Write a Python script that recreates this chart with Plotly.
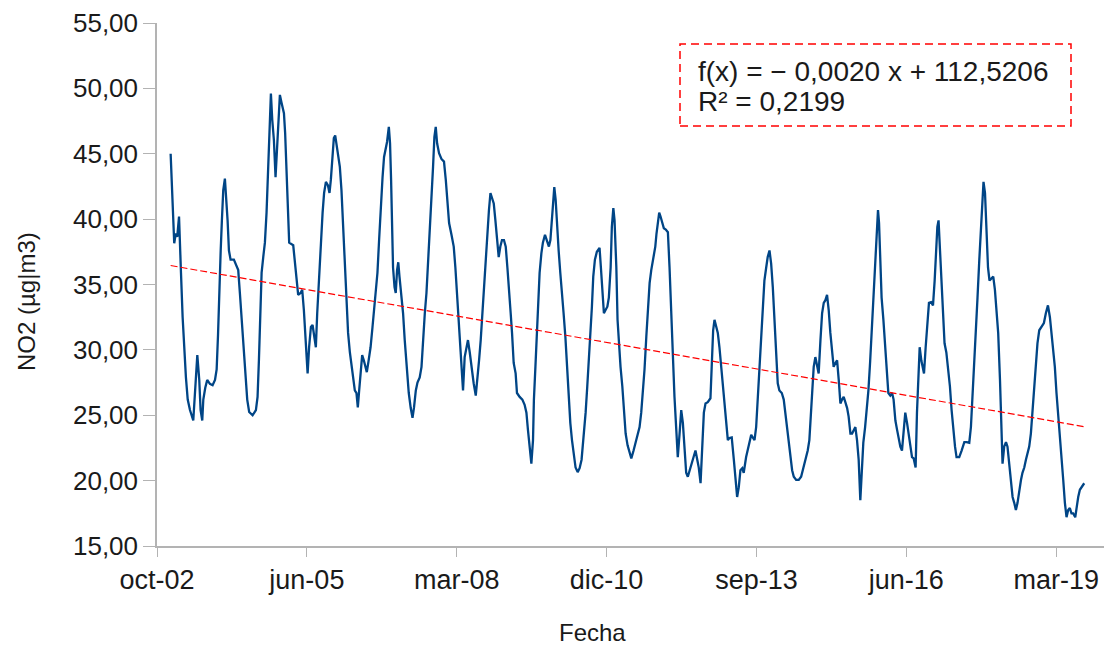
import pandas as pd
import plotly.graph_objects as go

# Fechas como número de serie de hoja de cálculo (días desde 1899-12-30)
fecha_serial = [
    37621, 37628, 37639, 37645, 37655, 37665, 37677, 37683, 37690, 37701,
    37712, 37723, 37735, 37750, 37772, 37781, 37790, 37799, 37812, 37821,
    37832, 37839, 37852, 37865, 37883, 37901, 37917, 37928, 37937, 37945,
    37955, 37963, 37972, 37983, 37990, 38001, 38010, 38021, 38043, 38057,
    38072, 38083, 38095, 38105, 38119, 38132, 38145, 38168, 38190, 38201,
    38210, 38217, 38228, 38239, 38250, 38261, 38272, 38283, 38290, 38299,
    38310, 38321, 38332, 38341, 38350, 38361, 38377, 38385, 38395, 38403,
    38412, 38439, 38450, 38461, 38472, 38488, 38499, 38510, 38519, 38528,
    38535, 38545, 38557, 38568, 38577, 38590, 38599, 38610, 38621, 38635,
    38645, 38657, 38670, 38681, 38690, 38701, 38710, 38719, 38728, 38739,
    38750, 38761, 38772, 38783, 38795, 38805, 38817, 38828, 38839, 38850,
    38861, 38870, 38879, 38888, 38899, 38910, 38919, 38930, 38941, 38955,
    38968, 38979, 38990, 39001, 39012, 39023, 39035, 39045, 39057, 39065,
    39077, 39085, 39092, 39099, 39105, 39115, 39123, 39132, 39140, 39148,
    39157, 39172, 39183, 39195, 39210, 39223, 39235, 39245, 39257, 39268,
    39283, 39295, 39305, 39317, 39328, 39339, 39350, 39361, 39372, 39381,
    39390, 39399, 39412, 39428, 39445, 39457, 39468, 39479, 39495, 39510,
    39521, 39532, 39543, 39555, 39565, 39572, 39583, 39595, 39605, 39617,
    39628, 39643, 39657, 39668, 39679, 39690, 39701, 39712, 39723, 39735,
    39745, 39755, 39765, 39777, 39788, 39799, 39810, 39821, 39832, 39845,
    39857, 39868, 39879, 39890, 39899, 39910, 39923, 39932, 39950, 39968,
    39983, 39995, 40005, 40017, 40028, 40039, 40045, 40055, 40065, 40075,
    40083, 40095, 40105, 40119, 40132, 40145, 40155, 40163, 40172, 40181,
    40190, 40199, 40210, 40221, 40232, 40243, 40255, 40265, 40277, 40288,
    40299, 40312, 40323, 40337, 40350, 40363, 40377, 40390, 40401, 40412,
    40423, 40432, 40441, 40452, 40465, 40483, 40492, 40501, 40512, 40523,
    40535, 40545, 40557, 40565, 40575, 40583, 40595, 40603, 40612, 40623,
    40635, 40645, 40657, 40670, 40695, 40710, 40723, 40739, 40750, 40761,
    40772, 40783, 40795, 40805, 40817, 40828, 40841, 40855, 40863, 40872,
    40881, 40890, 40901, 40912, 40925, 40939, 40950, 40961, 40972, 40983,
    40995, 41005, 41017, 41028, 41039, 41050, 41061, 41072, 41085, 41099,
    41112, 41123, 41135, 41145, 41157, 41168, 41179, 41190, 41205, 41223,
    41232, 41241, 41250, 41261, 41272, 41283, 41295, 41305, 41317, 41328,
    41339, 41350, 41365, 41379, 41390, 41401, 41412, 41423, 41435, 41445,
    41461, 41472, 41483, 41495, 41505, 41517, 41528, 41539, 41550, 41561,
    41572, 41583, 41595, 41605, 41617, 41628, 41639, 41650, 41661, 41672,
    41683, 41699, 41712, 41723, 41735, 41745, 41757, 41768, 41779, 41795,
    41812, 41828, 41839, 41850, 41861, 41872, 41883, 41892, 41901, 41912,
    41923, 41935, 41945, 41957, 41968, 41979, 41990, 42001, 42012, 42023,
    42035, 42045, 42057, 42068, 42079, 42090, 42101, 42112, 42123, 42135,
    42145, 42157, 42168, 42179, 42190, 42201, 42212, 42223, 42232, 42243,
    42255, 42265, 42277, 42288, 42299, 42310, 42321, 42332, 42341, 42348,
    42357, 42365, 42377, 42388, 42399, 42410, 42423, 42435, 42445, 42457,
    42468, 42479, 42490, 42501, 42512, 42523, 42535, 42545, 42557, 42568,
    42579, 42592, 42601, 42610, 42619, 42630, 42639, 42648, 42659, 42670,
    42681, 42695, 42708, 42719, 42728, 42737, 42745, 42755, 42763, 42775,
    42785, 42797, 42810, 42821, 42832, 42843, 42855, 42865, 42883, 42899,
    42917, 42932, 42950, 42961, 42972, 42983, 42995, 43005, 43017, 43028,
    43037, 43045, 43055, 43063, 43075, 43085, 43099, 43110, 43121, 43132,
    43143, 43155, 43163, 43172, 43183, 43195, 43205, 43217, 43228, 43239,
    43250, 43261, 43272, 43283, 43295, 43305, 43317, 43328, 43339, 43350,
    43361, 43372, 43383, 43395, 43405, 43417, 43432, 43448, 43461, 43475,
    43488, 43499, 43510, 43521, 43532, 43543, 43555, 43565, 43577, 43588,
    43599, 43610, 43621, 43632, 43643, 43657, 43665, 43677, 43688, 43701,
    43717,
]

# Concentración media de NO2 (µg/m3)
no2 = [
    45.0, 43.2, 40.9, 38.15, 38.9, 38.65, 40.2, 38.65, 35.9, 32.5,
    29.8, 27.9, 26.2, 25.4, 24.6, 26.5, 28.2, 29.6, 27.7, 25.4,
    24.6, 26.2, 27.1, 27.7, 27.4, 27.3, 27.7, 28.5, 31.1, 34.7,
    37.6, 39.9, 42.2, 43.1, 42.0, 39.9, 37.6, 36.9, 36.9, 36.5,
    36.1, 34.35, 32.3, 30.2, 28.2, 26.2, 25.25, 25.0, 25.4, 26.4,
    29.2, 32.8, 35.9, 37.1, 38.2, 40.5, 44.3, 48.1, 49.6, 47.6,
    46.05, 43.2, 45.5, 47.6, 49.5, 48.9, 48.1, 46.6, 43.5, 39.9,
    38.2, 38.0, 36.6, 35.1, 34.2, 34.35, 34.6, 33.05, 31.0, 29.0,
    28.2, 30.2, 31.75, 31.9, 31.3, 30.2, 32.8, 35.3, 38.4, 40.5,
    42.0, 42.85, 42.6, 42.0, 43.0, 44.5, 46.2, 46.4, 45.8, 45.05,
    44.0, 42.2, 39.4, 36.9, 34.0, 31.3, 29.8, 28.7, 27.7, 26.9,
    26.7, 25.6, 26.9, 28.5, 29.6, 29.2, 28.7, 28.3, 29.1, 30.2,
    31.75, 33.3, 34.35, 35.9, 38.4, 40.9, 43.2, 44.75, 45.4, 45.9,
    47.05, 45.8, 43.0, 39.9, 36.3, 34.8, 34.35, 36.1, 36.7, 35.6,
    34.6, 32.8, 30.75, 28.7, 26.7, 25.55, 24.8, 25.6, 26.9, 27.5,
    27.9, 28.7, 30.75, 32.8, 34.35, 36.6, 38.6, 40.9, 44.0, 46.3,
    47.05, 45.8, 45.05, 44.6, 44.4, 43.0, 41.2, 39.7, 38.8, 37.9,
    36.3, 34.35, 31.75, 29.45, 27.9, 26.9, 29.45, 30.2, 30.75, 29.8,
    28.7, 27.45, 26.5, 27.7, 29.2, 30.75, 32.8, 34.8, 37.4, 39.2,
    40.7, 42.0, 41.7, 41.2, 39.9, 38.2, 37.1, 37.9, 38.4, 38.4,
    37.9, 36.3, 34.8, 32.8, 31.3, 29.0, 28.2, 26.7, 26.4, 26.2,
    25.8, 25.2, 23.9, 22.6, 21.3, 23.1, 26.2, 28.7, 31.5, 33.8,
    35.9, 37.4, 38.2, 38.8, 38.4, 37.9, 38.4, 39.9, 41.7, 42.45,
    41.5, 39.4, 37.6, 35.9, 34.6, 32.8, 31.0, 29.0, 26.4, 24.4,
    23.1, 22.1, 21.0, 20.65, 20.95, 21.6, 23.3, 25.2, 27.2, 29.2,
    31.3, 33.3, 35.6, 36.9, 37.5, 37.8, 36.3, 34.6, 32.8, 33.05,
    33.3, 34.0, 36.3, 39.4, 40.85, 39.9, 36.3, 32.3, 30.2, 28.7,
    27.2, 25.2, 23.6, 22.7, 21.7, 22.3, 22.9, 23.6, 24.1, 25.2,
    26.7, 28.5, 31.0, 32.8, 35.1, 36.1, 36.9, 37.9, 38.9, 39.9,
    40.5, 40.2, 39.7, 39.3, 39.2, 39.0, 36.3, 32.8, 29.45, 26.4,
    23.9, 21.8, 23.6, 25.4, 24.4, 22.6, 20.6, 20.3, 20.8, 21.3,
    21.8, 22.3, 21.6, 21.0, 19.8, 22.1, 25.2, 25.9, 26.0, 26.3,
    29.0, 31.5, 32.3, 31.75, 31.3, 30.2, 28.7, 26.9, 25.4, 24.1,
    23.1, 23.25, 23.3, 21.6, 20.05, 18.75, 19.5, 20.8, 20.95, 20.6,
    21.8, 22.3, 22.9, 23.5, 23.3, 23.1, 24.1, 26.4, 29.0, 31.3,
    33.3, 35.3, 36.3, 37.1, 37.6, 36.6, 34.8, 32.3, 29.8, 27.45,
    26.9, 26.7, 26.2, 25.2, 24.1, 23.1, 21.8, 20.8, 20.3, 20.05,
    20.05, 20.3, 20.8, 21.3, 21.8, 22.3, 23.1, 25.2, 27.2, 28.7,
    29.45, 28.7, 28.2, 30.75, 32.8, 33.6, 33.8, 34.2, 33.05, 31.3,
    29.8, 28.7, 29.0, 29.2, 27.7, 25.9, 26.2, 26.4, 26.0, 25.55,
    24.9, 23.6, 23.6, 23.9, 24.1, 23.1, 21.6, 18.5, 20.6, 22.9,
    24.1, 25.4, 26.9, 29.0, 31.5, 33.8, 36.3, 38.9, 40.7, 39.7,
    36.6, 34.0, 32.3, 30.2, 28.5, 26.7, 26.5, 26.7, 26.2, 24.6,
    23.9, 23.1, 22.6, 22.3, 23.9, 25.2, 24.4, 23.6, 22.6, 21.8,
    21.7, 21.0, 25.2, 28.2, 30.2, 29.2, 28.7, 28.2, 30.2, 32.3,
    33.6, 33.65, 33.4, 35.3, 37.9, 39.4, 39.9, 37.4, 34.8, 32.05,
    30.5, 29.8, 28.5, 27.2, 25.4, 23.9, 22.6, 21.8, 21.8, 22.3,
    22.95, 22.95, 22.9, 24.1, 26.4, 29.0, 31.5, 34.0, 36.9, 39.2,
    41.5, 42.85, 42.0, 39.2, 36.3, 35.3, 35.5, 35.6, 34.6, 33.05,
    31.3, 27.7, 23.6, 21.3, 22.6, 22.95, 22.6, 21.3, 19.8, 18.75,
    18.3, 17.75, 18.3, 19.3, 20.05, 20.6, 21.0, 21.6, 22.1, 22.6,
    23.6, 25.4, 27.2, 28.7, 30.5, 31.5, 31.75, 32.05, 32.8, 33.4,
    32.5, 31.3, 30.2, 28.7, 26.7, 25.2, 23.6, 22.1, 20.05, 18.3,
    17.2, 17.75, 17.9, 17.5, 17.5, 17.2, 18.0, 18.75, 19.3, 19.5,
    19.8,
]

# Recta de tendencia lineal (x = fecha en número de serie)
PENDIENTE = -0.002022
ORDENADA = 112.5206
R2 = 0.2199

# Marcas del eje X: cada 1000 días desde el 1 de octubre de 2002
MARCA_INICIO = 37530
MARCA_PASO = 1000
N_MARCAS = 7
EJE_X_FIN = 43849
MESES = ["ene", "feb", "mar", "abr", "may", "jun",
         "jul", "ago", "sep", "oct", "nov", "dic"]

ORIGEN = "1899-12-30"


def a_fecha(serial):
    return pd.to_datetime(serial, unit="D", origin=ORIGEN)


fechas = a_fecha(pd.Series(fecha_serial))
marcas_serial = [MARCA_INICIO + k * MARCA_PASO for k in range(N_MARCAS)]
marcas_fecha = [a_fecha(s) for s in marcas_serial]
marcas_texto = [f"{MESES[d.month - 1]}-{d.year % 100:02d}" for d in marcas_fecha]

tend_x = [fecha_serial[0], fecha_serial[-1]]
tend_y = [ORDENADA + PENDIENTE * s for s in tend_x]

fuente = "Liberation Sans, Arial, sans-serif"
gris_eje = "#b3b3b3"

fig = go.Figure()
fig.add_trace(go.Scatter(
    x=fechas, y=no2, mode="lines",
    line=dict(color="#004586", width=2.3),
    showlegend=False,
))
fig.add_trace(go.Scatter(
    x=[a_fecha(s) for s in tend_x], y=tend_y, mode="lines",
    line=dict(color="#ff0000", width=1.2, dash="7px,3px"),
    showlegend=False,
))

fig.update_layout(
    width=1106, height=646,
    margin=dict(l=157, r=2, t=23, b=100),
    paper_bgcolor="white", plot_bgcolor="white",
    separators=",.",
    font=dict(family=fuente, color="#1a1a1a"),
    showlegend=False,
)
fig.update_xaxes(
    type="date",
    range=[a_fecha(MARCA_INICIO), a_fecha(EJE_X_FIN)],
    tickmode="array", tickvals=marcas_fecha, ticktext=marcas_texto,
    ticks="outside", ticklen=9, tickcolor=gris_eje, tickwidth=1,
    showline=True, linecolor=gris_eje, linewidth=1.5,
    showgrid=False, zeroline=False,
    tickfont=dict(size=27, family=fuente, color="#1a1a1a"),
)
fig.update_yaxes(
    range=[15, 55], dtick=5, tick0=15, tickformat=".2f",
    ticks="outside", ticklen=12, tickcolor=gris_eje, tickwidth=1,
    showline=True, linecolor=gris_eje, linewidth=1.5,
    showgrid=False, zeroline=False,
    tickfont=dict(size=26, family=fuente, color="#1a1a1a"),
)

# Títulos de los ejes
fig.add_annotation(
    text="Fecha", xref="paper", yref="paper",
    x=(592 - 157) / 947, y=-(632 - 546) / 523,
    xanchor="center", yanchor="middle", showarrow=False,
    font=dict(size=24, family=fuente, color="#1a1a1a"),
)
fig.add_annotation(
    text="NO2 (µg|m3)", xref="paper", yref="paper",
    x=(27 - 157) / 947, y=(546 - 302) / 523, textangle=-90,
    xanchor="center", yanchor="middle", showarrow=False,
    font=dict(size=24, family=fuente, color="#1a1a1a"),
)

# Cuadro con la ecuación de la tendencia
texto_ec = f"f(x) = − {abs(PENDIENTE):.4f} x + {ORDENADA:.4f}".replace(".", ",")
texto_r2 = f"R² = {R2:.4f}".replace(".", ",")
fig.add_shape(
    type="rect", xref="paper", yref="paper",
    x0=(680 - 157) / 947, x1=(1071 - 157) / 947,
    y0=(546 - 126) / 523, y1=(546 - 44) / 523,
    line=dict(color="#ff0000", width=1.5, dash="8px,5px"),
    fillcolor="rgba(0,0,0,0)",
)
fig.add_annotation(
    text=texto_ec, xref="paper", yref="paper",
    x=(696 - 157) / 947, y=(546 - 72) / 523,
    xanchor="left", yanchor="middle", showarrow=False,
    font=dict(size=28, family=fuente, color="#1a1a1a"),
)
fig.add_annotation(
    text=texto_r2, xref="paper", yref="paper",
    x=(696 - 157) / 947, y=(546 - 101) / 523,
    xanchor="left", yanchor="middle", showarrow=False,
    font=dict(size=28, family=fuente, color="#1a1a1a"),
)

fig.write_html("out.html")
